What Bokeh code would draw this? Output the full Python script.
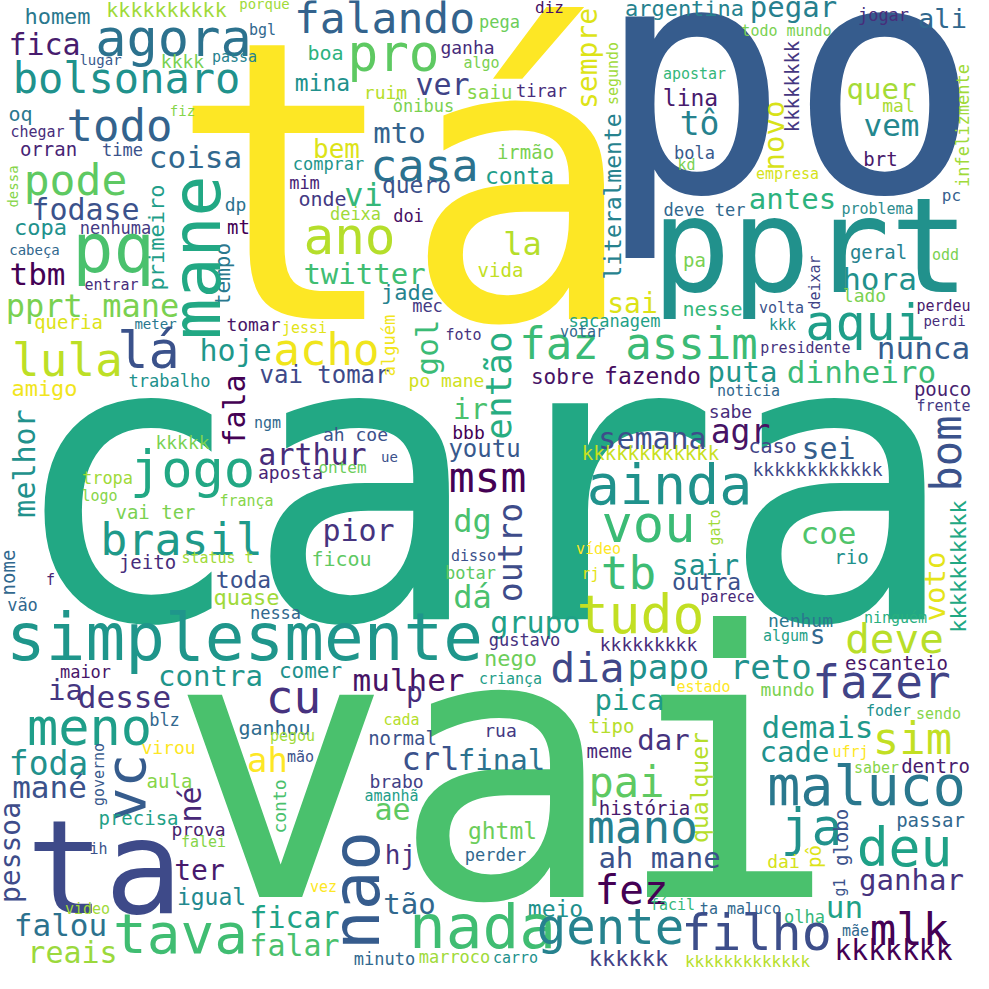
from bokeh.plotting import figure
from bokeh.models import ColumnDataSource, Range1d
from bokeh.core.properties import value
from bokeh.embed import file_html
from bokeh.resources import INLINE
import math


#words of the cloud and their weight (font size in px)
words = [
    "tá", "po", "cara", "vai", "pprt", "ta", "simplesmente",
    "homem", "kkkkkkkkkk", "porque", "agora", "fica", "bgl", "lugar", "kkkk", "passa", "bolsonaro",
    "oq", "fiz", "todo", "chegar", "orran", "time", "coisa", "pode", "dessa", "primeiro",
    "fodase", "dp", "copa", "nenhuma", "mt", "cabeça", "pq", "tbm", "tempo", "entrar", "pprt mane", "mane",
    "boa", "mina", "bem", "comprar", "mim", "onde", "vi", "deixa", "doi", "ano",
    "twitter", "meter", "tomar", "jessi", "lá", "hoje", "acho", "vai tomar",
    "falando", "pro", "pega", "diz", "ganha", "algo", "ver", "ruim", "saiu", "tirar",
    "ônibus", "sempre", "segundo", "mto", "casa", "irmão", "conta", "quero", "la", "literalmente",
    "vida", "jade", "mec", "sai", "sacanagem",
    "argentina", "pegar", "ali", "jogar", "todo mundo", "kkkkkkkk", "apostar", "quer", "infelizmente", "lina",
    "mal", "novo", "tô", "vem", "bola", "brt", "kd", "empresa", "antes", "deve ter",
    "pc", "problema", "geral", "pa", "odd", "hora", "deixar", "lado", "nesse", "volta",
    "perdeu", "perdi", "kkk", "aqui",
    "faz assim", "presidente", "nunca", "puta", "dinheiro", "sobre", "fazendo", "noticia", "pouco", "frente",
    "sabe", "semana", "agr", "caso", "sei", "bom", "kkkkkkkkkkkk", "kkkkkkkkkkkk", "ainda", "vou",
    "coe", "gato", "rio", "kkkkkkkkkk", "voto", "sair", "outra", "parece", "nenhum", "ninguém",
    "algum", "s", "deve", "kkkkkkkkk",
    "alguém", "gol", "foto", "votar", "então", "po mane", "ir", "ah coe", "bbb", "arthur",
    "youtu", "ue", "aposta", "ontem", "msm", "dg", "pior", "outro", "ficou", "vídeo",
    "disso", "botar", "rj", "dá", "tb", "tudo", "grupo", "gustavo",
    "queria", "lula", "amigo", "trabalho", "fala", "melhor", "ngm", "kkkkk", "jogo", "tropa",
    "logo", "frança", "vai ter", "brasil", "jeito", "status t", "nome", "f", "toda", "vão",
    "quase", "nessa",
    "maior", "contra", "comer", "ia", "desse", "cu", "meno", "blz", "ganhou", "pegou",
    "foda", "virou", "governo", "ah", "mão", "vc", "mané", "aula", "né", "conto",
    "pessoa", "precisa", "prova", "falei", "ih", "ter", "igual", "video", "falou", "tava",
    "ficar", "falar", "reais", "vez",
    "dia", "papo reto", "nego", "mulher", "criança", "pica", "p", "cada", "tipo", "dar",
    "normal", "rua", "crl", "final", "meme", "brabo", "pai", "amanhã", "ae", "história",
    "ghtml", "mano", "hj", "perder", "ah mane", "nao", "fez", "tão", "meio", "nada",
    "gente", "minuto", "marroco", "carro", "kkkkkk",
    "escanteio", "estado", "mundo", "fazer", "foder", "sendo", "demais", "sim", "cade", "ufrj",
    "qualquer", "dentro", "saber", "maluco", "ja", "passar", "globo", "deu", "dai", "pô",
    "ganhar", "g1", "un", "fácil", "ta maluco", "filho", "olha", "mlk", "mãe", "kkkkkkk",
    "kkkkkkkkkkkkk",
]
weights = [
    390, 320, 395, 370, 132, 130, 66,
    22, 20, 14, 52, 30, 15, 14, 18, 15, 42,
    20, 14, 44, 15, 19, 17, 31, 43, 14, 22,
    30, 18, 22, 17, 19, 14, 68, 31, 21, 15, 32, 68,
    20, 23, 26, 17, 17, 20, 32, 17, 17, 51,
    29, 14, 18, 15, 52, 30, 44, 24,
    43, 51, 17, 16, 18, 15, 30, 18, 19, 17,
    17, 28, 15, 29, 45, 19, 23, 23, 32, 23,
    19, 22, 17, 28, 17,
    22, 29, 27, 17, 15, 19, 15, 29, 17, 23,
    18, 29, 33, 31, 17, 19, 15, 15, 29, 17,
    16, 15, 19, 19, 15, 31, 15, 18, 20, 15,
    15, 14, 15, 50,
    44, 15, 31, 29, 31, 21, 23, 15, 19, 15,
    18, 30, 33, 20, 30, 42, 19, 18, 55, 52,
    31, 15, 19, 22, 29, 28, 23, 15, 18, 15,
    15, 26, 41, 18,
    17, 31, 15, 15, 36, 18, 29, 18, 18, 30,
    24, 14, 18, 16, 43, 32, 30, 33, 20, 15,
    15, 17, 15, 32, 46, 53, 30, 17,
    19, 46, 22, 17, 30, 30, 15, 18, 52, 17,
    15, 15, 19, 45, 19, 15, 19, 15, 23, 17,
    22, 17,
    17, 29, 21, 29, 31, 46, 52, 17, 20, 15,
    33, 18, 15, 34, 15, 56, 31, 19, 30, 18,
    28, 19, 18, 15, 15, 28, 23, 15, 31, 56,
    30, 30, 30, 15,
    41, 34, 22, 31, 15, 29, 28, 15, 19, 29,
    19, 18, 32, 29, 19, 18, 42, 15, 30, 19,
    23, 46, 26, 17, 29, 66, 41, 29, 23, 61,
    49, 17, 17, 15, 22,
    19, 15, 18, 46, 15, 15, 31, 44, 29, 15,
    23, 19, 15, 55, 51, 19, 19, 53, 18, 19,
    29, 15, 31, 15, 15, 50, 17, 44, 15, 28,
    16,
]

#layout of the cloud: x centre, baseline y (page px), turned upright, colour
layout = [
    (410, 328, 0, "#fde725"), (796, 200, 0, "#365c8d"), (490, 628, 0, "#22a884"), (511, 906, 0, "#4ac16d"),
    (818, 300, 0, "#21918c"), (112, 921, 0, "#3e4a89"), (252, 668, 0, "#1f968b"),
    (65, 32, 0, "#2a788e"), (174, 24, 0, "#a0da39"), (272, 16, 0, "#a0da39"), (181, 64, 0, "#2c728e"),
    (52, 62, 0, "#481c6e"), (270, 43, 0, "#31688e"), (108, 72, 0, "#38598c"), (190, 75, 0, "#7ad151"),
    (242, 70, 0, "#26828e"), (134, 101, 0, "#20928c"),
    (28, 128, 0, "#2a788e"), (190, 123, 0, "#86d549"), (127, 148, 0, "#33638d"), (45, 145, 0, "#472d7b"),
    (56, 163, 0, "#482475"), (130, 163, 0, "#3b528b"), (203, 175, 0, "#31688e"), (83, 203, 0, "#5ec962"),
    (25, 194, 1, "#86d549"), (172, 245, 1, "#1f9e89"),
    (93, 227, 0, "#3b528b"), (243, 218, 0, "#2c728e"), (48, 243, 0, "#21918c"), (123, 241, 0, "#443983"),
    (246, 241, 0, "#440154"), (42, 262, 0, "#31688e"), (121, 280, 0, "#4ac16d"), (45, 292, 0, "#440154"),
    (238, 282, 1, "#2a788e"), (119, 298, 0, "#472d7b"), (100, 325, 0, "#7ad151"), (228, 265, 1, "#22a884"),
    (333, 67, 0, "#2db27d"), (330, 99, 0, "#21918c"), (344, 166, 0, "#dde318"), (336, 177, 0, "#1f968b"),
    (312, 196, 0, "#482475"), (330, 213, 0, "#443983"), (371, 214, 0, "#35b779"), (363, 227, 0, "#a0da39"),
    (416, 229, 0, "#471164"), (357, 262, 0, "#b5de2b"),
    (372, 292, 0, "#40bd72"), (163, 336, 0, "#2a788e"), (261, 338, 0, "#481668"), (312, 341, 0, "#e2e418"),
    (156, 376, 0, "#3b528b"), (243, 368, 0, "#1f988b"), (334, 372, 0, "#f0e51c"), (332, 391, 0, "#3e4989"),
    (392, 41, 0, "#33638d"), (401, 79, 0, "#5ec962"), (507, 35, 0, "#6ccd5a"), (557, 21, 0, "#471164"),
    (475, 61, 0, "#472c7a"), (489, 76, 0, "#7ad151"), (450, 102, 0, "#404387"), (393, 106, 0, "#b5de2b"),
    (497, 106, 0, "#86d549"), (549, 104, 0, "#472d7b"),
    (431, 119, 0, "#7ad151"), (605, 66, 1, "#dde318"), (626, 81, 1, "#a0da39"), (407, 151, 0, "#33638d"),
    (432, 189, 0, "#2c728e"), (533, 166, 0, "#7ad151"), (527, 192, 0, "#1f9e89"), (424, 201, 0, "#3b528b"),
    (530, 263, 0, "#b5de2b"), (629, 204, 1, "#26828e"),
    (508, 284, 0, "#c2df23"), (415, 308, 0, "#26828e"), (435, 319, 0, "#443983"), (640, 321, 0, "#dde318"),
    (622, 334, 0, "#1fa187"),
    (692, 24, 0, "#26828e"), (801, 25, 0, "#27808e"), (950, 35, 0, "#31688e"), (891, 28, 0, "#472d7b"),
    (794, 44, 0, "#7ad151"), (806, 94, 1, "#453781"), (702, 87, 0, "#35b779"), (889, 107, 0, "#a5db36"),
    (976, 133, 1, "#a0da39"), (698, 114, 0, "#481b6d"),
    (906, 119, 0, "#a8db34"), (792, 143, 1, "#d8e219"), (707, 143, 0, "#26828e"), (899, 143, 0, "#24878e"),
    (702, 166, 0, "#38598c"), (888, 173, 0, "#48186a"), (694, 178, 0, "#7ad151"), (795, 187, 0, "#d5e21a"),
    (800, 217, 0, "#2db27d"), (712, 223, 0, "#31688e"),
    (959, 209, 0, "#355f8d"), (885, 222, 0, "#2c8c8d"), (886, 266, 0, "#26828e"), (702, 274, 0, "#7ad151"),
    (953, 268, 0, "#7ad151"), (887, 297, 0, "#21918c"), (828, 290, 1, "#414487"), (872, 309, 0, "#7ad151"),
    (720, 323, 0, "#35b779"), (789, 321, 0, "#3b528b"),
    (951, 319, 0, "#481b6d"), (952, 333, 0, "#472d7b"), (790, 338, 0, "#21918c"), (873, 348, 0, "#1f9e89"),
    (646, 366, 0, "#3bbb75"), (813, 361, 0, "#46337e"), (931, 366, 0, "#365c8d"), (750, 390, 0, "#1f968b"),
    (869, 390, 0, "#3bbb75"), (570, 392, 0, "#471365"), (660, 392, 0, "#470d60"), (756, 404, 0, "#31688e"),
    (950, 403, 0, "#481f70"), (951, 419, 0, "#443983"),
    (738, 425, 0, "#472d7b"), (660, 456, 0, "#3d4e8a"), (748, 451, 0, "#471365"), (780, 460, 0, "#414487"),
    (836, 466, 0, "#355f8d"), (969, 461, 1, "#3b528b"), (658, 467, 0, "#c8e020"), (825, 483, 0, "#3e4989"),
    (677, 512, 0, "#20928c"), (656, 550, 0, "#3bbb75"),
    (836, 551, 0, "#50c46a"), (728, 535, 1, "#a0da39"), (859, 571, 0, "#21918c"), (974, 574, 1, "#22a884"),
    (953, 594, 1, "#e5e419"), (713, 583, 0, "#21918c"), (714, 598, 0, "#3b528b"), (735, 610, 0, "#482878"),
    (808, 634, 0, "#2a788e"), (903, 631, 0, "#29af7f"),
    (793, 649, 0, "#1fa187"), (825, 652, 0, "#31688e"), (902, 661, 0, "#b8de29"), (656, 658, 0, "#472d7b"),
    (402, 353, 1, "#f1e51d"), (445, 355, 1, "#3bbb75"), (471, 348, 0, "#46337e"), (590, 345, 0, "#31688e"),
    (519, 393, 1, "#27ad81"), (454, 394, 0, "#d0e11c"), (478, 427, 0, "#4ac16d"), (363, 448, 0, "#3b528b"),
    (476, 446, 0, "#440154"), (320, 472, 0, "#472c7a"),
    (492, 465, 0, "#38598c"), (397, 469, 0, "#3b528b"), (298, 486, 0, "#482475"), (350, 481, 0, "#6ccd5a"),
    (495, 500, 0, "#440154"), (480, 540, 0, "#4ac16d"), (366, 548, 0, "#46337e"), (530, 560, 1, "#3e4c8a"),
    (349, 573, 0, "#5ec962"), (606, 562, 0, "#fde725"),
    (481, 569, 0, "#3b528b"), (478, 586, 0, "#5ec962"), (598, 587, 0, "#e5e419"), (480, 616, 0, "#4ac16d"),
    (636, 597, 0, "#3dbc74"), (648, 641, 0, "#c2df23"), (543, 640, 0, "#1fa187"), (532, 653, 0, "#46327e"),
    (76, 336, 0, "#dde318"), (75, 384, 0, "#bddf26"), (52, 404, 0, "#f1e51d"), (177, 394, 0, "#21918c"),
    (252, 418, 1, "#440154"), (42, 471, 1, "#21918c"), (275, 436, 0, "#31688e"), (190, 456, 0, "#7ad151"),
    (200, 495, 0, "#22a884"), (115, 491, 0, "#a0da39"),
    (107, 509, 0, "#86d549"), (254, 514, 0, "#86d549"), (163, 526, 0, "#7ad151"), (189, 563, 0, "#1f9a8a"),
    (155, 576, 0, "#472d7b"), (225, 571, 0, "#a0da39"), (22, 580, 1, "#31688e"), (58, 593, 0, "#482475"),
    (251, 596, 0, "#3b528b"), (30, 618, 0, "#31688e"),
    (254, 613, 0, "#a0da39"), (283, 626, 0, "#31688e"),
    (93, 685, 0, "#481769"), (218, 694, 0, "#1f968b"), (318, 686, 0, "#21918c"), (73, 708, 0, "#453781"),
    (132, 715, 0, "#46337e"), (301, 721, 0, "#46327e"), (97, 753, 0, "#1f9e89"), (172, 733, 0, "#31688e"),
    (282, 742, 0, "#2f6c8e"), (300, 749, 0, "#a0da39"),
    (56, 783, 0, "#21918c"), (176, 761, 0, "#fde725"), (112, 782, 1, "#38598c"), (275, 779, 0, "#fde725"),
    (308, 770, 0, "#3b528b"), (153, 795, 1, "#365c8d"), (57, 805, 0, "#3b528b"), (177, 795, 0, "#86d549"),
    (208, 812, 1, "#482878"), (293, 814, 1, "#4ac16d"),
    (28, 860, 1, "#3e4c8a"), (146, 832, 0, "#1fa187"), (206, 843, 0, "#481f70"), (211, 855, 0, "#86d549"),
    (106, 862, 0, "#3b528b"), (207, 888, 0, "#481a6c"), (219, 913, 0, "#23898e"), (95, 922, 0, "#a0da39"),
    (68, 943, 0, "#2c728e"), (188, 961, 0, "#40bd72"),
    (302, 935, 0, "#20a386"), (302, 963, 0, "#4ac16d"), (80, 970, 0, "#9bd93c"), (331, 900, 0, "#fde725"),
    (595, 690, 0, "#3f4788"), (727, 686, 0, "#21918c"), (518, 674, 0, "#6ccd5a"), (416, 698, 0, "#471365"),
    (518, 692, 0, "#1f9e89"), (637, 718, 0, "#1f9a8a"), (422, 710, 0, "#472d7b"), (409, 733, 0, "#b5de2b"),
    (619, 740, 0, "#b5de2b"), (671, 758, 0, "#46337e"),
    (410, 752, 0, "#3b528b"), (508, 744, 0, "#443983"), (438, 778, 0, "#3b528b"), (509, 778, 0, "#2c728e"),
    (617, 765, 0, "#472d7b"), (404, 795, 0, "#424186"), (634, 805, 0, "#5ec962"), (399, 809, 0, "#1f9e89"),
    (400, 827, 0, "#5ec962"), (652, 822, 0, "#481b6d"),
    (510, 847, 0, "#6ccd5a"), (650, 851, 0, "#277f8e"), (408, 872, 0, "#46327e"), (503, 868, 0, "#31688e"),
    (667, 876, 0, "#3b528b"), (387, 898, 1, "#365c8d"), (639, 912, 0, "#440154"), (417, 922, 0, "#31688e"),
    (563, 925, 0, "#21918c"), (490, 955, 0, "#40bd72"),
    (618, 952, 0, "#26828e"), (392, 972, 0, "#31688e"), (462, 970, 0, "#a0da39"), (523, 971, 0, "#21918c"),
    (636, 974, 0, "#424186"),
    (904, 677, 0, "#481769"), (711, 700, 0, "#fde725"), (795, 703, 0, "#7ad151"), (889, 706, 0, "#414487"),
    (896, 724, 0, "#21918c"), (946, 727, 0, "#86d549"), (825, 745, 0, "#1f988b"), (920, 761, 0, "#c2df23"),
    (802, 770, 0, "#21918c"), (858, 765, 0, "#fde725"),
    (716, 795, 1, "#b5de2b"), (943, 780, 0, "#481b6d"), (884, 781, 0, "#86d549"), (874, 813, 0, "#2a788e"),
    (819, 853, 0, "#21918c"), (938, 834, 0, "#31688e"), (855, 845, 1, "#3b528b"), (912, 874, 0, "#1fa187"),
    (791, 875, 0, "#d5e21a"), (828, 864, 1, "#dde318"),
    (919, 898, 0, "#46337e"), (853, 895, 1, "#3b528b"), (852, 925, 0, "#1fa187"), (680, 918, 0, "#35b779"),
    (748, 922, 0, "#31688e"), (764, 958, 0, "#3d4e8a"), (812, 930, 0, "#35b779"), (917, 952, 0, "#440154"),
    (863, 944, 0, "#31688e"), (901, 968, 0, "#440154"),
    (755, 975, 0, "#b5de2b"),
]
assert len(words) == len(weights) == len(layout)

#bokeh draws the glyphs lower than the true baseline, pull them back up
shift = 0.35


#build the source
xs, ys, angles, colors = [], [], [], []
for (x, y, turned, color), w in zip(layout, weights):
    if turned:
        xs.append(x - shift * w)
        ys.append(y)
        angles.append(math.pi / 2)
    else:
        xs.append(x)
        ys.append(y - shift * w)
        angles.append(0)
    colors.append(color)

source = ColumnDataSource(dict(
    x=xs, y=ys, text=words, size=[str(w) + "px" for w in weights], angle=angles, color=colors,
))


#draw the cloud, y axis flipped so it runs down like the picture
p = figure(width=973, height=973, x_range=Range1d(8, 981), y_range=Range1d(981, 8),
           output_backend="svg", toolbar_location=None, min_border=0)
p.xaxis.visible = False
p.yaxis.visible = False
p.xgrid.grid_line_color = None
p.ygrid.grid_line_color = None
p.outline_line_color = None
p.background_fill_color = "white"
p.border_fill_color = "white"
p.text(x="x", y="y", text="text", angle="angle", text_font_size="size", text_color="color",
       text_align="center", text_baseline="alphabetic", text_font=value("DejaVu Sans Mono"), source=source)

open("out.html", "w").write(file_html(p, INLINE))
